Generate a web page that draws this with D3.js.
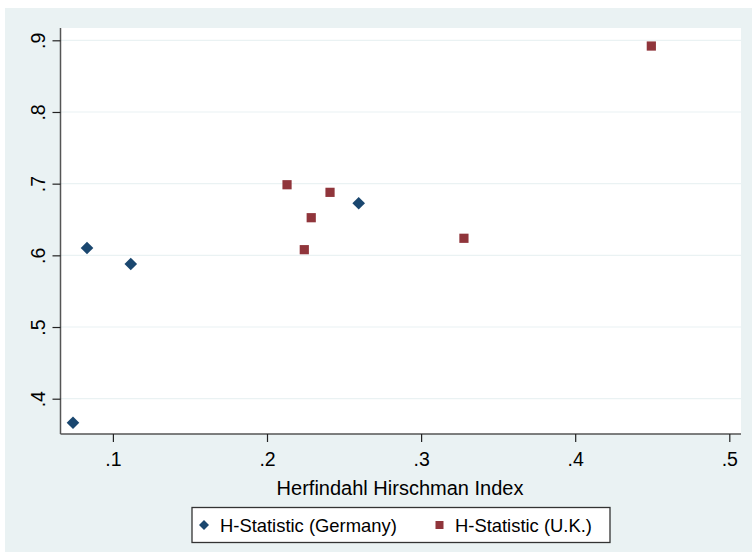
<!DOCTYPE html>
<html>
<head>
<meta charset="utf-8">
<script src="https://cdn.jsdelivr.net/npm/d3@7"></script>
<style>
  body { margin: 0; background: #fff; }
  text { font-family: "Liberation Sans", Arial, Helvetica, sans-serif; fill: #000; }
</style>
</head>
<body>
<div id="chart"></div>
<script>
// Germany (diamonds)
const germanyHHI = [0.0741, 0.0832, 0.1116, 0.2595];
const germanyH = [0.3665, 0.6102, 0.5879, 0.6726];
// U.K. (squares)
const ukHHI = [0.2130, 0.2409, 0.2287, 0.2242, 0.3278, 0.4494];
const ukH = [0.6985, 0.6879, 0.6525, 0.6079, 0.6238, 0.8920];

const xTicks = [0.1, 0.2, 0.3, 0.4, 0.5];
const yTicks = [0.4, 0.5, 0.6, 0.7, 0.8, 0.9];
const seriesNames = ["H-Statistic (Germany)", "H-Statistic (U.K.)"];

const width = 752, height = 552;
const plot = { left: 60.5, right: 741, top: 28, bottom: 434 };
const navy = "#1a476f", maroon = "#90353b";

const x = d3.scaleLinear().domain([0.1, 0.5]).range([112.9, 729.3]);
const y = d3.scaleLinear().domain([0.4, 0.9]).range([398.7, 40.3]);
const fmt = d => d3.format(".1f")(d).replace(/^0/, "");

const svg = d3.select("#chart").append("svg")
    .attr("width", width)
    .attr("height", height);

// outer graph region
svg.append("rect")
    .attr("x", 5).attr("y", 8)
    .attr("width", width - 5).attr("height", height - 8)
    .attr("fill", "#eaf2f3");

// plot region
svg.append("rect")
    .attr("x", plot.left).attr("y", plot.top)
    .attr("width", plot.right - plot.left).attr("height", plot.bottom - plot.top)
    .attr("fill", "#fff");

// gridlines
svg.append("g")
    .selectAll("line")
    .data(yTicks)
    .join("line")
    .attr("x1", plot.left).attr("x2", plot.right)
    .attr("y1", d => y(d)).attr("y2", d => y(d))
    .attr("stroke", "#eaf2f3")
    .attr("stroke-width", 1.2);

// y axis
const yAxis = svg.append("g")
    .attr("transform", `translate(${plot.left},0)`)
    .call(d3.axisLeft(y).tickValues(yTicks).tickSize(8).tickPadding(0).tickFormat(fmt));
yAxis.select(".domain").attr("d", `M0,${plot.top}V${plot.bottom}`).attr("stroke", "#555").attr("stroke-width", 1.5);
yAxis.selectAll(".tick line").attr("stroke", "#222").attr("stroke-width", 1.2);
yAxis.selectAll(".tick text")
    .attr("font-size", 19.5)
    .attr("text-anchor", "middle")
    .attr("x", 0)
    .attr("dy", "0em")
    .attr("transform", "translate(-16,0) rotate(-90)");

// x axis
const xAxis = svg.append("g")
    .attr("transform", `translate(0,${plot.bottom})`)
    .call(d3.axisBottom(x).tickValues(xTicks).tickSize(8).tickPadding(10).tickFormat(fmt));
xAxis.select(".domain").attr("d", `M${plot.left},0H${plot.right}`).attr("stroke", "#555").attr("stroke-width", 1.5);
xAxis.selectAll(".tick line").attr("stroke", "#222").attr("stroke-width", 1.2);
xAxis.selectAll(".tick text").attr("font-size", 19.5);

svg.append("text")
    .attr("x", 400)
    .attr("y", 495)
    .attr("text-anchor", "middle")
    .attr("font-size", 20)
    .text("Herfindahl Hirschman Index");

// points
const germany = germanyHHI.map((v, i) => ({ x: v, y: germanyH[i] }));
const uk = ukHHI.map((v, i) => ({ x: v, y: ukH[i] }));

const diamond = s => `M0,${-s}L${s},0L0,${s}L${-s},0Z`;

svg.append("g")
    .selectAll("path")
    .data(germany)
    .join("path")
    .attr("d", diamond(6.3))
    .attr("transform", d => `translate(${x(d.x)},${y(d.y)})`)
    .attr("fill", navy);

svg.append("g")
    .selectAll("rect")
    .data(uk)
    .join("rect")
    .attr("x", d => x(d.x) - 4.6)
    .attr("y", d => y(d.y) - 4.6)
    .attr("width", 9.2).attr("height", 9.2)
    .attr("fill", maroon);

// legend
const legend = svg.append("g");
legend.append("rect")
    .attr("x", 192).attr("y", 507.5)
    .attr("width", 418).attr("height", 35)
    .attr("fill", "#fff")
    .attr("stroke", "#333")
    .attr("stroke-width", 1.3);

legend.append("path")
    .attr("d", diamond(5))
    .attr("transform", "translate(204,525)")
    .attr("fill", navy);
legend.append("text")
    .attr("x", 220).attr("y", 532)
    .attr("font-size", 18.4)
    .text(seriesNames[0]);

legend.append("rect")
    .attr("x", 435.5).attr("y", 521)
    .attr("width", 8).attr("height", 8)
    .attr("fill", maroon);
legend.append("text")
    .attr("x", 455).attr("y", 532)
    .attr("font-size", 18.4)
    .text(seriesNames[1]);
</script>
</body>
</html>
